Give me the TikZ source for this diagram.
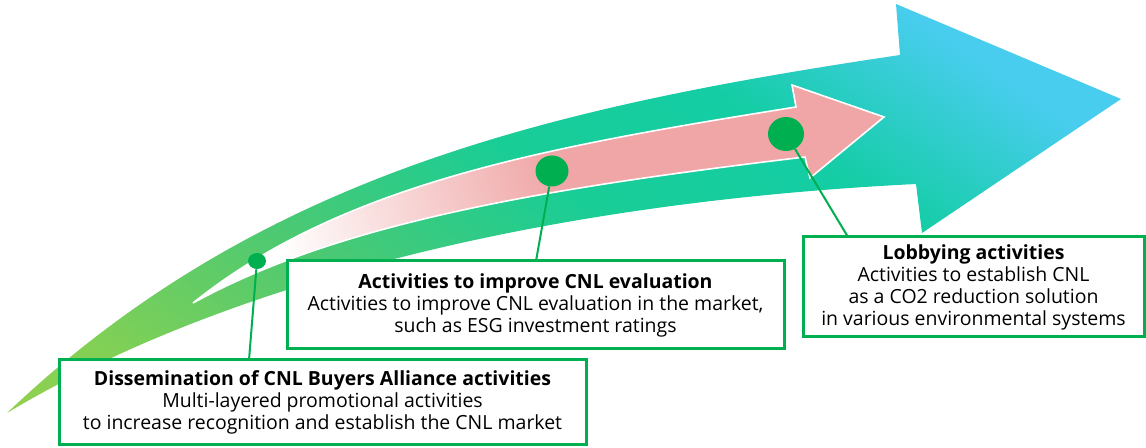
\documentclass[tikz,border=0pt]{standalone}
\usepackage{fontspec}
\setmainfont{Open Sans}
\usetikzlibrary{shapes.geometric}
\definecolor{lnG}{RGB}{0,176,80}
\definecolor{aGa}{RGB}{146,208,80}
\definecolor{aGb}{RGB}{130,208,85}
\definecolor{aGc}{RGB}{75,201,115}
\definecolor{aGd}{RGB}{25,205,150}
\definecolor{aGe}{RGB}{20,205,165}
\definecolor{aGf}{RGB}{72,205,238}
\definecolor{pk}{RGB}{240,166,166}
\pgfdeclarehorizontalshading{bigshade}{100bp}{color(0bp)=(aGa); color(25bp)=(aGa); color(30.4bp)=(aGb); color(40.9bp)=(aGc); color(50.8bp)=(aGd); color(59.5bp)=(aGe); color(68.4bp)=(aGf); color(100bp)=(aGf)}
\pgfdeclarehorizontalshading{pinkshade}{100bp}{color(0bp)=(white); color(27bp)=(white); color(52bp)=(pk); color(100bp)=(pk)}
\begin{document}
\begin{tikzpicture}[x=0.75pt,y=-0.75pt,
  box/.style={draw=lnG, line width=2.25pt, fill=white, align=center, inner sep=0pt,
    font=\fontsize{14.6}{16.5}\selectfont, text=black},
  dot/.style={ellipse, fill=lnG, inner sep=0pt},
  lead/.style={draw=lnG, line width=1.5pt}]
\useasboundingbox (0,0) rectangle (1146,448);
% big arrow, shaded along a direction 55 degrees above horizontal
\begin{scope}
  \clip (7,413) .. controls (257,175) and (550,107) .. (900,55)
    -- (896,4) -- (1121,99) -- (922,233) -- (916,184)
    .. controls (516,204) and (207,293) .. (7,413) -- cycle;
  \begin{scope}[transform canvas={rotate=55}]
    \shade[shading=bigshade] (-334,-150) rectangle (640,1350);
  \end{scope}
\end{scope}
% pink arrow
\shade[shading=pinkshade, shading angle=18, draw=white, line width=1.2pt]
  (193,303) .. controls (343,183) and (546,147) .. (796,107)
  -- (792,85) -- (884,117) -- (810,178) -- (805,157)
  .. controls (555,187) and (343,220.5) .. (193,303) -- cycle;
% dots
\node[dot, minimum width=13.5pt, minimum height=12pt] (d1) at (257,261) {};
\node[dot, minimum width=24.75pt, minimum height=23.25pt] (d2) at (552,171) {};
\node[dot, minimum width=27pt, minimum height=25.5pt] (d3) at (786,134) {};
% leader ends
\coordinate (c1) at (249,360);
\coordinate (c2) at (536,261);
\coordinate (c3) at (848,237);
\draw[lead] (d1) -- (c1);
\draw[lead] (d2) -- (c2);
\draw[lead] (d3) -- (c3);
% boxes
\node[box, minimum width=395.25pt, minimum height=63.75pt] (b1) at (322.5,402.5)
  {\textbf{Dissemination of CNL Buyers Alliance activities}\\Multi-layered promotional activities\\to increase recognition and establish the CNL market};
\node[box, minimum width=372.75pt, minimum height=66pt] (b2) at (535.5,305)
  {\textbf{Activities to improve CNL evaluation}\\Activities to improve CNL evaluation in the market,\\such as ESG investment ratings};
\node[box, minimum width=255.75pt, minimum height=75pt] (b3) at (973.5,287)
  {\textbf{Lobbying activities}\\Activities to establish CNL\\as a CO2 reduction solution\\in various environmental systems};
\end{tikzpicture}
\end{document}
